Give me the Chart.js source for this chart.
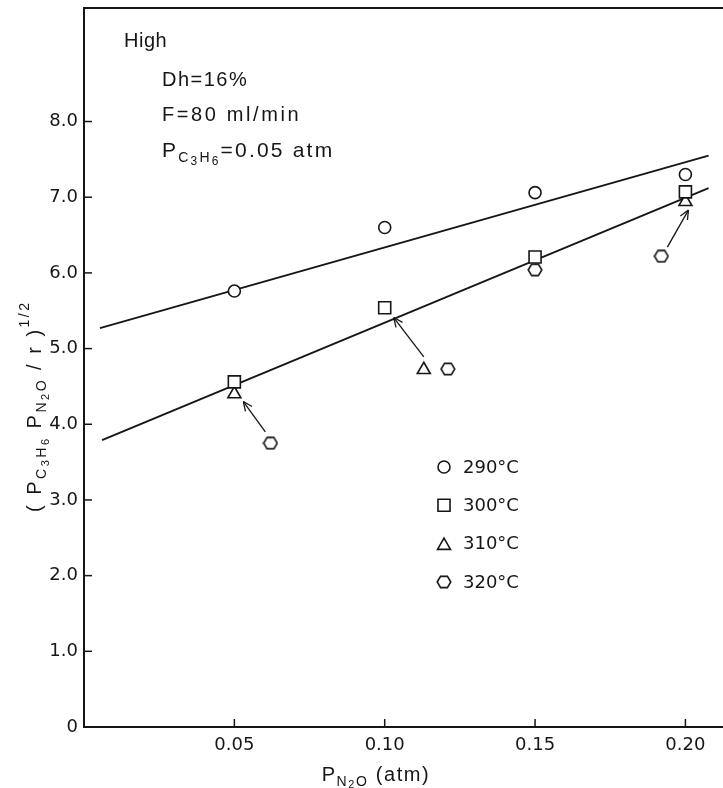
<!DOCTYPE html>
<html>
<head>
<meta charset="utf-8">
<script src="https://cdn.jsdelivr.net/npm/chart.js@4.4.1/dist/chart.umd.min.js"></script>
<style>
  html, body { margin: 0; padding: 0; background: #fff; }
  canvas { display: block; }
</style>
</head>
<body>
<canvas id="chart" width="723" height="788"></canvas>
<script>
// Values
const xTicks = [0.05, 0.10, 0.15, 0.20];
const yTicks = [0, 1, 2, 3, 4, 5, 6, 7, 8];

const s290X = [0.05, 0.10, 0.15, 0.20];
const s290Y = [5.76, 6.60, 7.06, 7.30];
const s300X = [0.05, 0.10, 0.15, 0.20];
const s300Y = [4.56, 5.54, 6.21, 7.07];
const s310X = [0.05, 0.113, 0.20];
const s310Y = [4.40, 4.72, 6.94];
const s320X = [0.062, 0.121, 0.15, 0.192];
const s320Y = [3.75, 4.73, 6.04, 6.22];

// fitted straight lines (end points)
const fitHighX = [0.0053, 0.2077];
const fitHighY = [5.27, 7.55];
const fitLowX = [0.006, 0.2077];
const fitLowY = [3.79, 7.12];

// arrows: tail -> tip
const arrowTailX = [0.0603, 0.113, 0.194];
const arrowTailY = [3.90, 4.89, 6.34];
const arrowTipX = [0.053, 0.103, 0.201];
const arrowTipY = [4.30, 5.41, 6.83];

const legendLabels = ['290°C', '300°C', '310°C', '320°C'];

const INK = '#161616';
const SANS = '"Liberation Sans", Arial, sans-serif';
const TICKFONT = '"DejaVu Sans", sans-serif';

/**
 * Hexagon marker (no built-in style for it)
 */
function makeHexagon() {
    const c = document.createElement('canvas');
    c.width = 16;
    c.height = 14;
    const g = c.getContext('2d');
    g.beginPath();
    g.moveTo(1.2, 7);
    g.lineTo(4.6, 1.4);
    g.lineTo(11.4, 1.4);
    g.lineTo(14.8, 7);
    g.lineTo(11.4, 12.6);
    g.lineTo(4.6, 12.6);
    g.closePath();
    g.fillStyle = '#fff';
    g.fill();
    g.strokeStyle = INK;
    g.lineWidth = 1.6;
    g.stroke();
    return c;
}

const hexagon = makeHexagon();

function pts(xs, ys) {
    return xs.map((x, i) => ({x: x, y: ys[i]}));
}

/**
 * Draw text made of parts (sub / superscripts), char by char with spacing
 */
function drawRich(ctx, parts, x, y, size, spacing, measureOnly) {
    let cx = x;
    parts.forEach(p => {
        ctx.font = Math.round(size * (p.s || 1)) + 'px ' + SANS;
        for (const ch of p.t) {
            if (!measureOnly) ctx.fillText(ch, cx, y + (p.dy || 0));
            cx += ctx.measureText(ch).width + spacing;
        }
    });
    return cx - x;
}

const markerStyles = [
    {pointStyle: 'circle', radius: 6},
    {pointStyle: 'rect', radius: 8.5},
    {pointStyle: 'triangle', radius: 7.5},
    {pointStyle: hexagon, radius: 7}
];

const overlayPlugin = {
    id: 'overlay',
    afterDraw(chart) {
        const ctx = chart.ctx;
        const area = chart.chartArea;
        const xs = chart.scales.x;
        const ys = chart.scales.y;
        ctx.save();
        ctx.strokeStyle = INK;
        ctx.fillStyle = INK;

        // top frame line
        ctx.lineWidth = 2;
        ctx.beginPath();
        ctx.moveTo(area.left, area.top);
        ctx.lineTo(area.right, area.top);
        ctx.stroke();

        // inward tick marks
        ctx.lineWidth = 1.5;
        yTicks.forEach(v => {
            const py = ys.getPixelForValue(v);
            ctx.beginPath();
            ctx.moveTo(area.left, py);
            ctx.lineTo(area.left + 8, py);
            ctx.stroke();
        });
        xTicks.forEach(v => {
            const px = xs.getPixelForValue(v);
            ctx.beginPath();
            ctx.moveTo(px, area.bottom);
            ctx.lineTo(px, area.bottom - 8);
            ctx.stroke();
        });

        // arrow heads
        ctx.lineWidth = 1.3;
        arrowTipX.forEach((tx, i) => {
            const x1 = xs.getPixelForValue(arrowTailX[i]);
            const y1 = ys.getPixelForValue(arrowTailY[i]);
            const x2 = xs.getPixelForValue(tx);
            const y2 = ys.getPixelForValue(arrowTipY[i]);
            const a = Math.atan2(y2 - y1, x2 - x1);
            [0.42, -0.42].forEach(d => {
                ctx.beginPath();
                ctx.moveTo(x2, y2);
                ctx.lineTo(x2 - 10 * Math.cos(a + d), y2 - 10 * Math.sin(a + d));
                ctx.stroke();
            });
        });

        // conditions text
        ctx.textBaseline = 'alphabetic';
        drawRich(ctx, [{t: 'High'}], 124, 47, 20, 0.5);
        drawRich(ctx, [{t: 'Dh=16%'}], 162, 86, 20, 1.5);
        drawRich(ctx, [{t: 'F=80 ml/min'}], 162, 121, 20, 2.6);
        drawRich(ctx, [
            {t: 'P'},
            {t: 'C', s: 0.68, dy: 5},
            {t: '3', s: 0.55, dy: 8},
            {t: 'H', s: 0.68, dy: 5},
            {t: '6', s: 0.55, dy: 8},
            {t: '=0.05 atm'}
        ], 162, 157, 21, 2.2);

        // legend
        legendLabels.forEach((label, i) => {
            const ly = 467 + i * 38.3;
            const m = markerStyles[i];
            ctx.fillStyle = '#fff';
            ctx.lineWidth = 1.6;
            Chart.helpers.drawPoint(ctx, {pointStyle: m.pointStyle, radius: m.radius, borderWidth: 1.6, rotation: 0}, 444, ly + (i === 2 ? 2 : 0));
            ctx.fillStyle = INK;
            ctx.font = '18px ' + TICKFONT;
            ctx.textBaseline = 'middle';
            ctx.fillText(label, 463, ly + 1);
            ctx.textBaseline = 'alphabetic';
        });

        // x axis title
        const xTitle = [
            {t: 'P'},
            {t: 'N', s: 0.68, dy: 5},
            {t: '2', s: 0.55, dy: 7},
            {t: 'O', s: 0.68, dy: 5},
            {t: ' (atm)'}
        ];
        const w = drawRich(ctx, xTitle, 0, 0, 20, 1.6, true);
        drawRich(ctx, xTitle, 376 - w / 2, 781, 20, 1.6);

        // y axis title (rotated)
        ctx.translate(41, 512);
        ctx.rotate(-Math.PI / 2);
        drawRich(ctx, [
            {t: '( '},
            {t: 'P'},
            {t: 'C', s: 0.68, dy: 5},
            {t: '3', s: 0.55, dy: 8},
            {t: 'H', s: 0.68, dy: 5},
            {t: '6', s: 0.55, dy: 8},
            {t: ' P'},
            {t: 'N', s: 0.68, dy: 5},
            {t: '2', s: 0.55, dy: 8},
            {t: 'O', s: 0.68, dy: 5},
            {t: ' / r )'},
            {t: '1/2', s: 0.68, dy: -12}
        ], 0, 0, 20, 2.5);
        ctx.restore();
    }
};

function markerDataset(label, xs, ys, style) {
    return {
        label: label,
        data: pts(xs, ys),
        showLine: false,
        pointStyle: style.pointStyle,
        pointRadius: style.radius,
        pointBorderWidth: 1.6,
        pointBorderColor: INK,
        pointBackgroundColor: '#fff',
        order: 0
    };
}

function lineDataset(xs, ys, width) {
    return {
        data: pts(xs, ys),
        showLine: true,
        borderColor: INK,
        borderWidth: width,
        pointRadius: 0,
        fill: false,
        order: 1
    };
}

const datasets = [
    markerDataset(legendLabels[0], s290X, s290Y, markerStyles[0]),
    markerDataset(legendLabels[1], s300X, s300Y, markerStyles[1]),
    markerDataset(legendLabels[2], s310X, s310Y, markerStyles[2]),
    markerDataset(legendLabels[3], s320X, s320Y, markerStyles[3]),
    lineDataset(fitHighX, fitHighY, 1.9),
    lineDataset(fitLowX, fitLowY, 1.9)
];
arrowTipX.forEach((tx, i) => {
    datasets.push(lineDataset([arrowTailX[i], tx], [arrowTailY[i], arrowTipY[i]], 1.3));
});

new Chart(document.getElementById('chart'), {
    type: 'scatter',
    data: {datasets: datasets},
    options: {
        responsive: false,
        devicePixelRatio: 1,
        animation: false,
        layout: {autoPadding: false, padding: {top: 8, right: 0, left: 0, bottom: 0}},
        plugins: {legend: {display: false}, tooltip: {enabled: false}},
        scales: {
            x: {
                type: 'linear',
                min: 0,
                max: 0.2125,
                afterFit(scale) {
                    scale.height = 61;
                    scale.paddingLeft = 0;
                    scale.paddingRight = 0;
                },
                afterBuildTicks(scale) { scale.ticks = xTicks.map(v => ({value: v})); },
                grid: {display: false, drawTicks: false},
                border: {display: true, color: INK, width: 2},
                ticks: {
                    padding: 8,
                    color: INK,
                    font: {family: TICKFONT, size: 18},
                    maxRotation: 0,
                    autoSkip: false,
                    callback: v => v.toFixed(2)
                }
            },
            y: {
                type: 'linear',
                min: 0,
                max: 9.5,
                afterFit(scale) {
                    scale.width = 84;
                    scale.paddingTop = 0;
                    scale.paddingBottom = 0;
                },
                afterBuildTicks(scale) { scale.ticks = yTicks.map(v => ({value: v})); },
                grid: {display: false, drawTicks: false},
                border: {display: true, color: INK, width: 2},
                ticks: {
                    padding: 6,
                    color: INK,
                    font: {family: TICKFONT, size: 18},
                    autoSkip: false,
                    callback: v => v === 0 ? '0' : v.toFixed(1)
                }
            }
        }
    },
    plugins: [overlayPlugin]
});
</script>
</body>
</html>
